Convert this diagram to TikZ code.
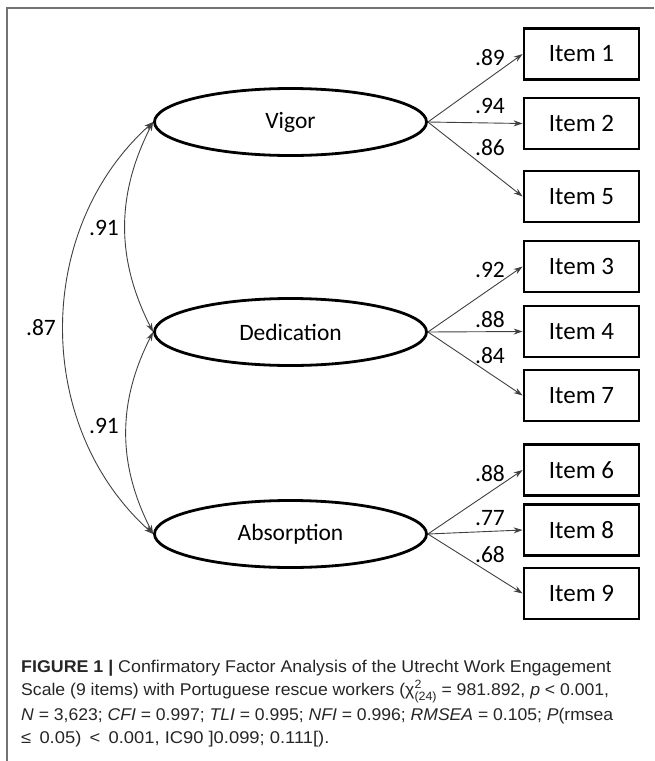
\documentclass[tikz,border=0pt]{standalone}
\usepackage{graphicx}
\usepackage{fontspec}
\setmainfont{Carlito}
\newfontfamily\capfont{Liberation Sans}
\usetikzlibrary{arrows.meta, shapes.geometric}

\begin{document}
\begin{tikzpicture}[x=1pt, y=-1pt,
  factor/.style={ellipse, draw=black, line width=2.8pt, minimum width=272pt, minimum height=67pt, font=\fontsize{23.5}{26}\selectfont},
  item/.style={rectangle, draw=black, line width=2.8pt, minimum width=115pt, minimum height=51pt, font=\fontsize{25}{28}\selectfont},
  load/.style={font=\fontsize{23.5}{26}\selectfont, inner sep=0pt},
  arr/.style={-{Stealth[length=9pt, width=6pt]}, line width=0.9pt, draw=black!75},
  cov/.style={{Stealth[length=9pt, width=6pt]}-{Stealth[length=9pt, width=6pt]}, line width=0.9pt, draw=black!75},
  capline/.style={anchor=base west, inner sep=0pt, text=black!85, font=\capfont\fontsize{17}{20}\selectfont}
]
\useasboundingbox (0,0) rectangle (654,761);

% Frame
\draw[black!55, line width=1.5pt] (654,8) -- (7,8) -- (7,761);

% Factors
\node[factor] (vig) at (290.5,122) {Vigor};
\node[factor] (ded) at (290.5,332) {Dedication};
\node[factor] (abs) at (290.5,534) {Absorption};

% Items
\foreach \n/\y in {1/54, 2/123.5, 5/196.5, 3/266.5, 4/331.5, 7/395.5, 6/470, 8/530, 9/593.5}
  \node[item] (i\n) at (581.5,\y) {Item \n};

% Loadings
\foreach \f/\n/\v/\ly in {vig/1/89/58, vig/2/94/106, vig/5/86/148, ded/3/92/270, ded/4/88/320, ded/7/84/356, abs/6/88/474, abs/8/77/518, abs/9/68/555} {
  \draw[arr] (\f.east) -- (i\n.west);
  \node[load] (w\n) at (490,\ly) {.\v};
}

% Covariances
\draw[cov] (vig.west) to[bend right=27] (ded.west);
\draw[cov] (ded.west) to[bend right=27] (abs.west);
\draw[cov] (vig.west) to[bend right=48] (abs.west);
\node[load] (c12) at (104,228) {.91};
\node[load] (c23) at (104,426) {.91};
\node[load] (c13) at (41,328) {.87};

% Caption
\node[capline] (cap1) at (21,672) {\scalebox{1.048}[1]{\textbf{FIGURE 1 |} Confirmatory Factor Analysis of the Utrecht Work Engagement}};
\node[capline] (cap2) at (21,695) {\scalebox{1.037}[1]{Scale (9 items) with Portuguese rescue workers (χ\rlap{\raisebox{6.5pt}{\fontsize{12}{12}\selectfont 2}}\raisebox{-5pt}{\fontsize{12}{12}\selectfont(24)} = 981.892, \textit{p} < 0.001,}};
\node[capline] (cap3) at (21,720) {\scalebox{1.033}[1]{\textit{N} = 3,623; \textit{CFI} = 0.997; \textit{TLI} = 0.995; \textit{NFI} = 0.996; \textit{RMSEA} = 0.105; \textit{P}(rmsea}};
\node[capline] (cap4) at (21,743) {\scalebox{1.08}[1]{≤\hspace{0.45em}0.05)\hspace{0.45em}<\hspace{0.45em}0.001, IC90 ]0.099; 0.111[).}};
\end{tikzpicture}
\end{document}
